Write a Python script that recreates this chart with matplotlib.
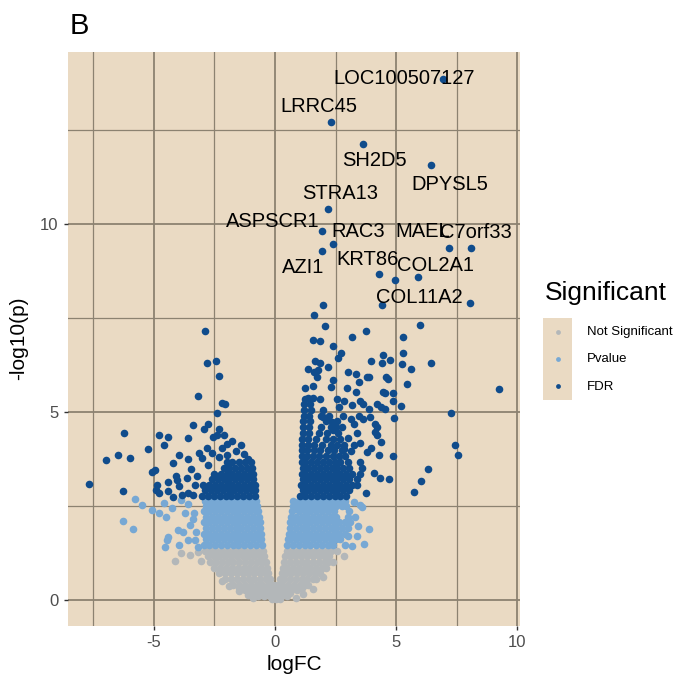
import matplotlib.pyplot as plt

plt.rcParams['font.family'] = ['Liberation Sans', 'DejaVu Sans']
plt.rcParams['axes.unicode_minus'] = False

# ---- data (logFC, -log10(p)) ----
# dense parts of the cloud, written row by row: (-log10 p, [logFC, ...])
ns_rows = [
    (1.31, [-2.9, -2.66, -2.42, -2.18, -1.94, -1.7, -1.46, -1.22, -0.98, -0.74, -0.5,
            0.48, 0.72, 0.96, 1.2, 1.44, 1.68, 1.92, 2.16, 2.32]),
    (1.16, [-2.78, -2.54, -2.3, -2.06, -1.82, -1.58, -1.34, -1.1, -0.86, -0.62, -0.45,
            0.43, 0.6, 0.84, 1.08, 1.32, 1.56, 1.8, 2.04, 2.24]),
    (1.01, [-2.68, -2.44, -2.2, -1.96, -1.72, -1.48, -1.24, -1.0, -0.76, -0.52, -0.39,
            0.38, 0.62, 0.86, 1.1, 1.34, 1.58, 1.82, 2.06, 2.18]),
    (0.86, [-2.5, -2.26, -2.02, -1.78, -1.54, -1.3, -1.06, -0.82, -0.58, -0.34,
            0.33, 0.5, 0.74, 0.98, 1.22, 1.46, 1.7, 1.94, 2.1]),
    (0.71, [-2.3, -2.06, -1.82, -1.58, -1.34, -1.1, -0.86, -0.62, -0.4, -0.27,
            0.27, 0.44, 0.68, 0.92, 1.16, 1.4, 1.64, 1.86]),
    (0.56, [-2.05, -1.81, -1.57, -1.33, -1.09, -0.85, -0.61, -0.37, -0.2,
            0.2, 0.38, 0.62, 0.86, 1.1, 1.34, 1.58, 1.68]),
    (0.41, [-1.72, -1.48, -1.24, -1.0, -0.76, -0.52, -0.28, -0.1,
            0.1, 0.3, 0.54, 0.78, 1.02, 1.26, 1.38]),
    (0.33, [-1.5, -1.12, -0.88, -0.64, -0.4, -0.16, 0.08, 0.32, 0.56, 0.8, 1.1]),
    (0.26, [-1.25, -1.01, -0.77, -0.53, -0.29, -0.05, 0.19, 0.43, 0.67, 0.92]),
    (0.18, [-0.95, -0.58, -0.34, -0.1, 0.14, 0.38, 0.62]),
    (0.12, [-0.7, -0.46, -0.22, 0.02, 0.26, 0.5]),
    (0.02, [-0.14, 0.06, 0.22]),
]
ns_x = [-4.15, -3.9, -3.5, -3.2, -3.05, -2.2, -1.9, -1.5, -1.1, -0.9,
        2.84, 2.55, 2.4, 2.0, 1.55, 1.15, 0.85]
ns_y = [1.04, 1.25, 1.19, 1.28, 1.05, 0.5, 0.36, 0.24, 0.14, 0.06,
        1.17, 1.3, 1.0, 0.6, 0.3, 0.15, 0.06]

pv_rows = [
    (1.46, [-2.95, -2.71, -2.47, -2.23, -1.99, -1.75, -1.51, -1.27, -1.03, -0.79, -0.55,
            0.5, 0.74, 0.98, 1.22, 1.46, 1.7, 1.94, 2.18, 2.4]),
    (1.61, [-2.83, -2.59, -2.35, -2.11, -1.87, -1.63, -1.39, -1.15, -0.91, -0.67, -0.56,
            0.53, 0.62, 0.86, 1.1, 1.34, 1.58, 1.82, 2.06, 2.3, 2.54, 2.7]),
    (1.76, [-2.95, -2.71, -2.47, -2.23, -1.99, -1.75, -1.51, -1.27, -1.03, -0.79, -0.58,
            0.56, 0.74, 0.98, 1.22, 1.46, 1.7, 1.94, 2.18, 2.42, 2.66, 2.88]),
    (1.91, [-2.83, -2.59, -2.35, -2.11, -1.87, -1.63, -1.39, -1.15, -0.91, -0.67, -0.6,
            0.6, 0.86, 1.1, 1.34, 1.58, 1.82, 2.06, 2.3, 2.54, 2.78, 3.0]),
    (2.06, [-2.95, -2.71, -2.47, -2.23, -1.99, -1.75, -1.51, -1.27, -1.03, -0.79, -0.63,
            0.64, 0.74, 0.98, 1.22, 1.46, 1.7, 1.94, 2.18, 2.42, 2.66, 2.9, 3.1]),
    (2.21, [-2.83, -2.59, -2.35, -2.11, -1.87, -1.63, -1.39, -1.15, -0.91, -0.67,
            0.68, 0.86, 1.1, 1.34, 1.58, 1.82, 2.06, 2.3, 2.54, 3.0]),
    (2.36, [-2.95, -2.71, -2.47, -2.23, -1.99, -1.75, -1.51, -1.27, -1.03, -0.79, -0.7,
            0.7, 0.98, 1.22, 1.46, 1.7, 1.94, 2.18, 2.42, 3.05]),
    (2.50, [-2.83, -2.59, -2.35, -2.11, -1.87, -1.63, -1.39, -1.15, -0.91, -0.73,
            0.73, 0.86, 1.1, 1.34, 1.58, 1.82, 2.06, 2.3, 2.54, 2.78, 2.95]),
    (2.62, [-2.9, -2.71, -2.47, -2.23, -1.99, -1.75, -1.51, -1.27, -1.03, -0.79,
            0.76, 0.98, 1.22, 1.46, 1.7, 1.94, 2.18, 2.42, 2.66, 2.9]),
]
pv_x = [-6.27, -5.86, -5.77, -5.5, -5.06, -4.8, -4.6, -4.25, -4.5, -3.9, -4.0, -3.8,
        -4.4, -4.45, -4.55, -3.96, -3.6, -3.2, -3.25, -3.5, -3.35, -3.6, -3.3, -3.4, -3.7,
        3.5, 3.9, 3.66, 3.2, 3.38, 3.44, 3.6, 3.3, 2.9, 3.0, 3.25]
pv_y = [2.1, 1.88, 2.68, 2.52, 2.39, 2.3, 2.57, 2.44, 2.2, 2.65, 1.86, 1.8,
        1.67, 1.6, 1.4, 1.46, 1.6, 1.4, 1.8, 2.0, 2.3, 2.55, 1.6, 2.15, 2.3,
        2.52, 1.9, 1.48, 1.43, 1.69, 1.98, 2.47, 2.2, 1.45, 1.7, 2.6]

fdr_rows = [
    (2.76, [-3.0, -2.76, -2.52, -2.28, -2.04, -1.8, -1.56, -1.32, -1.08, -0.84,
            1.02, 1.26, 1.5, 1.74, 1.98, 2.22, 2.46, 2.7, 2.94]),
    (2.91, [-2.9, -2.64, -2.4, -2.16, -1.92, -1.68, -1.44, -1.2, -0.96, -0.82,
            1.14, 1.38, 1.62, 1.86, 2.1, 2.34, 2.58, 2.82, 3.05]),
    (3.06, [-2.96, -2.72, -2.48, -2.24, -2.0, -1.76, -1.52, -1.28, -1.04, -0.84,
            1.06, 1.26, 1.5, 1.74, 1.98, 2.22, 2.46, 2.7, 2.94, 3.2, 3.4]),
    (3.21, [-2.6, -2.36, -2.12, -1.88, -1.64, -1.4, -1.16, -0.92,
            1.14, 1.38, 1.62, 1.86, 2.1, 2.34, 2.58, 2.82, 3.06, 3.4]),
    (3.36, [-2.5, -2.24, -2.0, -1.76, -1.52, -1.28, -1.04, -0.9,
            1.1, 1.26, 1.5, 1.74, 1.98, 2.22, 2.46, 2.7, 2.94, 3.2, 3.5]),
    (3.51, [-2.1, -1.88, -1.64, -1.4, -1.16, -0.95,
            1.14, 1.38, 1.62, 1.86, 2.1, 2.34, 2.58, 2.82, 3.06, 3.6]),
    (3.66, [-2.0, -1.76, -1.5, -1.25, -1.0,
            1.12, 1.26, 1.5, 1.74, 1.98, 2.22, 2.46, 2.7, 3.0, 3.5]),
    (3.83, [1.12, 1.32, 1.56, 1.8, 2.1, 2.4, 2.64, 2.9]),
    (3.98, [1.1, 1.34, 1.6, 1.85, 2.2, 2.45, 2.75]),
    (4.13, [1.12, 1.35, 1.62, 1.95, 2.3, 2.55, 2.85]),
    (4.28, [1.12, 1.38, 1.7, 2.1, 2.4, 2.7]),
    (4.43, [1.14, 1.4, 1.8, 2.15, 2.6]),
    (4.60, [1.15, 1.42, 1.9, 2.3, 2.75]),
    (4.75, [1.15, 1.45, 2.1, 2.55]),
    (4.90, [1.18, 1.4, 2.25, 2.8]),
    (5.05, [1.2, 1.5, 2.0]),
    (5.20, [1.2, 1.45]),
    (5.35, [1.25]),
]
fdr_x = [-2.88, -2.8, -2.43, -2.3, -3.17, -2.18, -2.05, -2.39, -3.4, -2.78, -2.95, -2.3,
         -6.25, -4.8, -4.4, -4.6, -3.6, -5.25, -6.5, -7.0, -5.98, -7.7, -6.27, -5.06,
         -4.95, -4.86, -4.9, -4.8, -4.4, -4.4, -4.2, -3.98, -3.6, -3.47, -4.1, -4.05,
         -3.98, -3.65, -3.23, -3.6, -3.15, -3.0, -2.8, -2.78, -2.55, -2.4, -2.1, -1.77,
         -1.4, -1.3, -1.97, -2.6, -2.2, -2.0, -1.6, -3.3, -3.4, -3.85, -4.2, -2.3, -1.1,
         1.97, 1.6, 2.05, 4.44, 8.05, 6.0, 3.74, 3.2, 1.55, 1.87, 2.4, 5.3, 2.74, 2.6,
         5.3, 4.47, 3.96, 4.44, 4.77, 5.26, 6.46, 5.6, 1.64, 1.85, 1.35, 2.18, 1.6, 1.76,
         1.72, 3.0, 3.36, 3.8, 3.9, 4.6, 4.65, 3.45, 2.4, 2.3, 5.46, 9.27, 1.22, 1.55,
         2.96, 3.34, 4.47, 4.55, 4.88, 1.35, 1.55, 1.85, 2.55, 2.84, 3.2, 3.5, 3.65, 4.2,
         4.36, 4.55, 4.88, 5.2, 2.63, 3.9, 7.27, 3.92, 4.93, 1.9, 2.0, 3.45, 3.65, 3.13,
         3.26, 2.36, 2.5, 2.4, 4.15, 4.2, 4.12, 4.2, 4.37, 7.44, 7.56, 4.88, 4.3, 3.95,
         3.8, 3.4, 3.5, 3.26, 6.32, 6.05, 5.76, 4.08, 4.33, 4.7, 3.76, 3.0, 2.85, 3.15,
         6.96, 2.3, 3.63, 6.46, 2.2, 1.95, 2.4, 1.95, 7.2, 8.1, 4.3, 4.96, 5.92]
fdr_y = [7.14, 6.31, 6.34, 5.94, 5.41, 5.23, 5.2, 4.96, 4.64, 4.69, 4.54, 4.54,
         4.43, 4.38, 4.32, 4.11, 4.3, 4.0, 3.85, 3.71, 3.77, 3.08, 2.89, 3.4,
         3.45, 3.05, 2.92, 2.84, 3.13, 2.89, 3.63, 3.85, 3.74, 3.47, 3.29, 3.18,
         3.02, 3.24, 3.29, 2.84, 3.9, 3.77, 4.03, 3.58, 4.32, 4.38, 4.38, 4.22,
         4.11, 3.87, 3.85, 3.9, 4.05, 4.15, 3.95, 3.05, 2.8, 2.78, 2.75, 3.8, 3.75,
         7.85, 7.56, 7.27, 7.85, 7.9, 7.32, 7.16, 7.0, 6.92, 6.87, 6.74, 6.98, 6.55, 6.42,
         6.55, 6.5, 6.34, 6.29, 6.37, 6.26, 6.29, 6.13, 6.34, 6.31, 6.15, 6.18, 6.05, 6.1,
         5.92, 6.05, 6.0, 5.92, 5.92, 5.92, 5.86, 5.78, 5.84, 5.65, 5.73, 5.6, 5.62, 5.68,
         5.62, 5.52, 5.54, 5.49, 5.49, 5.36, 5.38, 5.33, 5.33, 5.3, 5.17, 5.3, 5.22, 5.22,
         5.12, 5.07, 5.3, 5.15, 5.12, 5.07, 4.96, 4.85, 4.83, 4.9, 4.85, 4.88, 4.8, 4.8,
         4.69, 4.72, 4.59, 4.51, 4.69, 4.59, 4.46, 4.38, 4.19, 4.11, 3.85, 3.82, 3.85, 4.03,
         3.93, 4.43, 4.16, 4.11, 3.47, 3.16, 2.86, 3.37, 3.24, 3.21, 2.84, 4.3, 4.0, 3.95,
         13.85, 12.7, 12.12, 11.56, 10.4, 9.81, 9.45, 9.28, 9.34, 9.36, 8.65, 8.51, 8.57]

gene_labels = ["LOC100507127", "LRRC45", "SH2D5", "DPYSL5", "STRA13", "ASPSCR1", "RAC3",
               "MAEL", "C7orf33", "AZI1", "KRT86", "COL2A1", "COL11A2"]
label_x = [5.33, 1.8, 4.11, 7.21, 2.69, -0.08, 3.45, 6.12, 8.29, 1.16, 3.84, 6.61, 5.95]
label_y = [13.85, 13.1, 11.67, 11.03, 10.8, 10.05, 9.8, 9.78, 9.76, 8.83, 9.06, 8.88, 8.05]

categories = ["Not Significant", "Pvalue", "FDR"]
colors = ["#B3B7B9", "#77A8D4", "#104C8C"]


def unpack(rows, xs, ys):
    allx, ally = list(xs), list(ys)
    for yv, row in rows:
        allx += row
        ally += [yv] * len(row)
    return allx, ally


groups = [unpack(ns_rows, ns_x, ns_y), unpack(pv_rows, pv_x, pv_y),
          unpack(fdr_rows, fdr_x, fdr_y)]

# ---- figure ----
W, H = 679, 681
fig = plt.figure(figsize=(W / 100, H / 100), dpi=100)
ax = fig.add_axes([68 / W, 1 - 626 / H, 452 / W, 574 / H])
bg = "#EADAC3"
grid_col = "#8C8271"
ax.set_facecolor(bg)
for s in ax.spines.values():
    s.set_visible(False)

for (gx, gy), c in zip(groups, colors):
    ax.scatter(gx, gy, s=30, color=c, linewidths=0, zorder=3)

for t, x, y in zip(gene_labels, label_x, label_y):
    ax.text(x, y, t, fontsize=14.5, ha="center", va="center", color="black", zorder=4)

ax.set_xticks([-5, 0, 5, 10])
ax.set_xticks([-7.5, -2.5, 2.5, 7.5], minor=True)
ax.set_yticks([0, 5, 10])
ax.set_yticks([2.5, 7.5, 12.5], minor=True)
ax.set_xlim(-8.55, 10.12)
ax.set_ylim(-0.69, 14.56)
ax.grid(which="major", color=grid_col, lw=1.3)
ax.grid(which="minor", color=grid_col, lw=0.9)
ax.set_axisbelow(True)
ax.tick_params(which="major", length=3.2, width=1.0, color="#333333",
               labelcolor="#4D4D4D", labelsize=12, pad=3.5)
ax.tick_params(which="minor", length=0)

fig.text(294 / W, 1 - 665 / H, "logFC", fontsize=15, ha="center", va="center")
fig.text(19 / W, 1 - 338 / H, "-log10(p)", fontsize=15, ha="center", va="center",
         rotation=90)
fig.text(70 / W, 1 - 26 / H, "B", fontsize=21, ha="left", va="center")

# legend
fig.text(545 / W, 1 - 293 / H, "Significant", fontsize=19, ha="left", va="center")
lax = fig.add_axes([543 / W, 1 - 400 / H, 29 / W, 82 / H])
lax.set_facecolor(bg)
lax.set_xlim(0, 1)
lax.set_ylim(0, 3)
lax.set_xticks([])
lax.set_yticks([])
for s in lax.spines.values():
    s.set_visible(False)
for i, (lab, c) in enumerate(zip(categories, colors)):
    lax.scatter([0.5], [2.5 - i], s=12, color=c, linewidths=0)
    fig.text(587 / W, 1 - (332 + 27.5 * i) / H, lab, fontsize=9.5, ha="left", va="center")

fig.savefig("out.png", dpi=100)
